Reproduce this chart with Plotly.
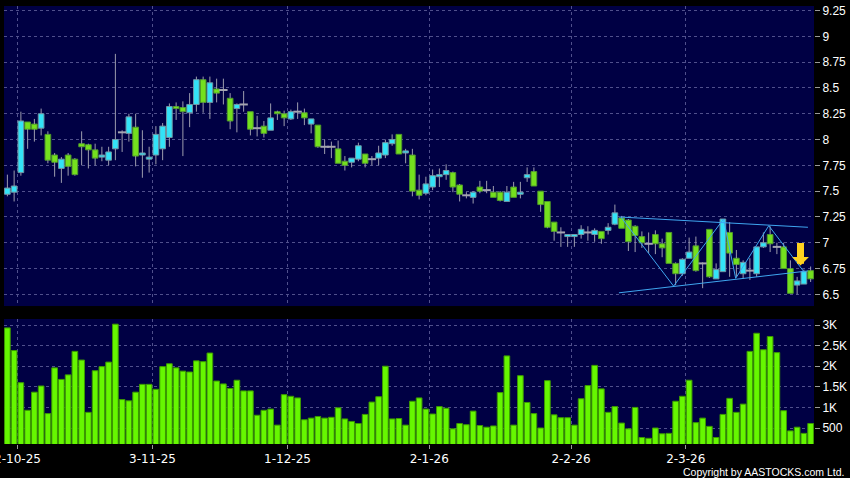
import numpy as np
import plotly.graph_objects as go

# ---------------- data ----------------
open_ = [7.47, 7.49, 7.68, 8.17, 8.15, 8.11, 8.05, 7.85, 7.72, 7.85,
         7.81, 7.96, 7.95, 7.90, 7.83, 7.80, 7.91, 8.07, 8.06, 8.12,
         7.85, 7.81, 7.85, 7.91, 8.02, 8.32, 8.31, 8.26, 8.34, 8.58,
         8.36, 8.49, 8.48, 8.40, 8.30, 8.34, 8.27, 8.11, 8.13, 8.09,
         8.27, 8.25, 8.20, 8.27, 8.26, 8.15, 8.14, 7.93, 7.93, 7.91,
         7.79, 7.78, 7.81, 7.86, 7.81, 7.82, 7.85, 7.96, 8.05, 7.87,
         7.85, 7.51, 7.48, 7.54, 7.64, 7.66, 7.68, 7.56, 7.46, 7.44,
         7.54, 7.51, 7.49, 7.49, 7.40, 7.54, 7.47, 7.63, 7.69, 7.50,
         7.40, 7.20, 7.10, 7.06, 7.06, 7.08, 7.10, 7.08, 7.11, 7.12,
         7.18, 7.24, 7.22, 7.16, 7.06, 6.99, 7.08, 6.99, 7.10, 6.80,
         6.70, 6.85, 6.97, 6.80, 7.13, 6.65, 6.72, 7.10, 6.85, 6.70,
         6.73, 6.70, 6.96, 7.08, 6.96, 6.96, 6.75, 6.59, 6.60, 6.73]
high = [7.66, 7.70, 8.27, 8.17, 8.20, 8.30, 8.08, 7.87, 7.83, 7.87,
        7.82, 8.08, 7.96, 7.96, 7.93, 7.93, 8.83, 8.09, 8.25, 8.25,
        8.09, 7.93, 8.13, 8.16, 8.35, 8.36, 8.37, 8.45, 8.61, 8.61,
        8.61, 8.59, 8.59, 8.45, 8.35, 8.47, 8.27, 8.23, 8.18, 8.35,
        8.28, 8.28, 8.29, 8.36, 8.30, 8.20, 8.14, 8.00, 7.98, 7.99,
        7.84, 7.82, 7.97, 7.86, 7.84, 7.94, 8.00, 8.05, 8.05, 7.91,
        7.91, 7.66, 7.64, 7.71, 7.72, 7.76, 7.69, 7.57, 7.49, 7.50,
        7.60, 7.60, 7.55, 7.50, 7.55, 7.59, 7.59, 7.73, 7.73, 7.50,
        7.40, 7.20, 7.15, 7.08, 7.08, 7.17, 7.16, 7.14, 7.11, 7.19,
        7.37, 7.26, 7.23, 7.17, 7.11, 7.10, 7.12, 7.04, 7.10, 6.81,
        6.85, 7.05, 7.06, 6.81, 7.13, 6.80, 7.23, 7.20, 6.93, 6.83,
        6.85, 6.96, 7.10, 7.16, 7.00, 7.00, 6.83, 6.67, 6.74, 6.77]
low = [7.45, 7.40, 7.65, 7.91, 7.98, 8.04, 7.77, 7.64, 7.58, 7.65,
       7.65, 7.75, 7.72, 7.75, 7.79, 7.75, 7.80, 7.88, 7.98, 7.74,
       7.63, 7.68, 7.76, 7.80, 7.93, 8.19, 7.84, 8.12, 8.27, 8.26,
       8.20, 8.36, 8.34, 8.10, 8.07, 8.27, 8.04, 8.03, 8.02, 8.09,
       8.19, 8.13, 8.19, 8.20, 8.14, 8.06, 7.92, 7.86, 7.82, 7.77,
       7.70, 7.73, 7.79, 7.73, 7.75, 7.75, 7.82, 7.94, 7.86, 7.77,
       7.45, 7.42, 7.46, 7.51, 7.54, 7.61, 7.49, 7.40, 7.43, 7.38,
       7.48, 7.48, 7.44, 7.40, 7.40, 7.44, 7.43, 7.59, 7.55, 7.30,
       7.14, 7.02, 6.96, 6.96, 6.96, 7.04, 7.02, 7.01, 6.99, 7.08,
       7.17, 7.14, 6.92, 6.91, 6.95, 6.90, 6.89, 6.86, 6.80, 6.59,
       6.68, 6.85, 6.72, 6.56, 6.66, 6.65, 6.72, 6.67, 6.67, 6.65,
       6.64, 6.67, 6.95, 6.91, 6.89, 6.75, 6.51, 6.50, 6.60, 6.62]
close = [7.53, 7.55, 8.18, 8.10, 8.10, 8.25, 7.80, 7.78, 7.81, 7.74,
         7.66, 7.93, 7.90, 7.82, 7.85, 7.88, 8.00, 8.07, 8.22, 7.84,
         7.87, 7.83, 8.05, 8.13, 8.32, 8.30, 8.27, 8.34, 8.58, 8.36,
         8.55, 8.45, 8.48, 8.18, 8.34, 8.34, 8.10, 8.11, 8.06, 8.21,
         8.25, 8.21, 8.27, 8.27, 8.21, 8.20, 7.93, 7.93, 7.93, 7.77,
         7.75, 7.82, 7.94, 7.77, 7.81, 7.87, 7.97, 8.00, 7.86, 7.89,
         7.50, 7.46, 7.57, 7.65, 7.66, 7.70, 7.54, 7.47, 7.46, 7.49,
         7.50, 7.51, 7.44, 7.41, 7.49, 7.44, 7.49, 7.66, 7.55, 7.37,
         7.15, 7.11, 7.10, 7.08, 7.08, 7.13, 7.10, 7.12, 7.04, 7.15,
         7.29, 7.14, 7.01, 7.07, 7.00, 6.99, 6.99, 6.95, 6.80, 6.70,
         6.84, 6.91, 6.73, 6.80, 6.67, 6.74, 7.23, 6.90, 6.79, 6.81,
         6.73, 6.96, 7.00, 6.99, 6.96, 6.75, 6.51, 6.63, 6.72, 6.65]
volume = [2930, 2380, 1600, 930, 1370, 1520, 850, 1960, 1680, 1790,
          2360, 2150, 880, 1890, 1990, 2100, 3020, 1190, 1160, 1370,
          1560, 1560, 1440, 1990, 2060, 1960, 1880, 1860, 2130, 2110,
          2320, 1640, 1570, 1460, 1660, 1400, 1400, 810, 930, 960,
          570, 1310, 1270, 1230, 700, 740, 780, 740, 760, 990,
          720, 660, 610, 830, 1130, 1260, 2000, 720, 730, 570,
          1150, 1230, 960, 840, 1020, 980, 480, 610, 580, 910,
          560, 520, 550, 1360, 2250, 570, 1770, 1120, 850, 500,
          1650, 820, 750, 750, 570, 1210, 1530, 2020, 1450, 880,
          1020, 620, 480, 1000, 270, 250, 500, 360, 370, 1150,
          1270, 1660, 630, 740, 540, 270, 830, 1220, 880, 1080,
          2360, 2800, 2400, 2720, 2330, 920, 430, 520, 370, 610]

# trading-day index of the labelled dates
tick_day_index = [1, 21, 41, 62, 83, 100]
tick_labels = ["2-10-25", "3-11-25", "1-12-25", "2-1-26", "2-2-26", "2-3-26"]

price_ticks = [6.5, 6.75, 7.0, 7.25, 7.5, 7.75, 8.0, 8.25, 8.5, 8.75, 9.0, 9.25]
price_tick_labels = ["6.5", "6.75", "7", "7.25", "7.5", "7.75", "8", "8.25",
                     "8.5", "8.75", "9", "9.25"]
vol_ticks = [500, 1000, 1500, 2000, 2500, 3000]
vol_tick_labels = ["500", "1K", "1.5K", "2K", "2.5K", "3K"]

# drawn pattern (triangle) lines, in (trading-day index, price)
upper_line_x = [90.6, 118.6]
upper_line_y = [7.25, 7.15]
lower_line_x = [90.6, 118.6]
lower_line_y = [6.515, 6.727]
zigzag_x = [91.0, 98.7, 106.1, 107.9, 112.8, 118.0]
zigzag_y = [7.24, 6.58, 7.23, 6.655, 7.165, 6.72]
arrow_x = 117.5
arrow_y = 6.78

# ---------------- figure ----------------
o = np.array(open_)
h = np.array(high)
l = np.array(low)
c = np.array(close)
x = np.arange(len(c))
body_top = np.maximum(o, c)
body_bot = np.minimum(o, c)

UP_FILL = "#33e3f7"
UP_LINE = "#6f96a4"
DN_FILL = "#74e01e"
DN_LINE = "#4f9a2a"
WICK = "#9c9cae"
FLAT = "#a4a4b0"

fig = go.Figure()

# wicks (above and below the body so they never cross it)
wx, wy = [], []
for i in range(len(c)):
    if h[i] > body_top[i]:
        wx += [x[i], x[i], None]
        wy += [h[i], body_top[i], None]
    if l[i] < body_bot[i]:
        wx += [x[i], x[i], None]
        wy += [body_bot[i], l[i], None]
fig.add_trace(go.Scatter(x=wx, y=wy, mode="lines", line=dict(color=WICK, width=1),
                         showlegend=False, hoverinfo="skip", xaxis="x", yaxis="y"))

# bodies
for mask, fill, edge in [(c > o, UP_FILL, UP_LINE), (c < o, DN_FILL, DN_LINE)]:
    fig.add_trace(go.Bar(
        x=x[mask], y=(body_top - body_bot)[mask], base=body_bot[mask], width=0.84,
        marker=dict(color=fill, line=dict(color=edge, width=1)),
        showlegend=False, hoverinfo="skip", xaxis="x", yaxis="y",
    ))

# doji (open == close): flat grey dash
flat = c == o
fig.add_trace(go.Scatter(
    x=x[flat], y=c[flat], mode="markers",
    marker=dict(symbol="line-ew", size=6, line=dict(color=FLAT, width=2)),
    showlegend=False, hoverinfo="skip", xaxis="x", yaxis="y",
))

line_style = dict(color="#3fa6f0", width=1)
for lx, ly in [(upper_line_x, upper_line_y), (lower_line_x, lower_line_y),
               (zigzag_x, zigzag_y)]:
    fig.add_trace(go.Scatter(x=lx, y=ly, mode="lines", line=line_style,
                             showlegend=False, hoverinfo="skip",
                             xaxis="x", yaxis="y"))

fig.add_trace(go.Bar(
    x=x, y=volume, width=0.84,
    marker=dict(color="#66f700", line=dict(color="#3c9a00", width=1)),
    showlegend=False, hoverinfo="skip", xaxis="x2", yaxis="y2",
))

NAVY = "#000044"
GRID = "#50508c"
xgrid_vals = [i + 0.5 for i in tick_day_index]

common_x = dict(
    range=[-0.5, 119.5], showline=False, zeroline=False, automargin=False,
    tickmode="array", tickvals=xgrid_vals,
    showgrid=True, gridcolor=GRID, griddash="3px,3px", gridwidth=1,
    fixedrange=True,
)
common_y = dict(
    side="right", tickmode="array", ticks="outside", ticklen=5, tickcolor="#9a9a9a",
    showgrid=True, gridcolor=GRID, griddash="3px,3px", gridwidth=1,
    zeroline=False, showline=False, fixedrange=True, automargin=False,
    tickfont=dict(family="Liberation Sans", size=12, color="#ffffff"),
)

fig.update_layout(
    width=850, height=478,
    paper_bgcolor="#000000", plot_bgcolor=NAVY,
    margin=dict(l=4, r=36, t=6, b=34, autoexpand=False),
    barmode="overlay",
    xaxis=dict(**common_x, domain=[0, 1], anchor="y",
               showticklabels=False, ticks=""),
    xaxis2=dict(**common_x, domain=[0, 1], anchor="y2", ticktext=tick_labels,
                ticks="outside", ticklen=4, tickcolor="#9a9a9a",
                ticklabeloverflow="allow",
                tickfont=dict(family="DejaVu Sans", size=12, color="#ffffff")),
    yaxis=dict(**common_y, domain=[0.315, 1], range=[6.387, 9.294],
               tickvals=price_ticks, ticktext=price_tick_labels),
    yaxis2=dict(**common_y, domain=[0, 0.2854], range=[112, 3146],
                tickvals=vol_ticks, ticktext=vol_tick_labels),
    annotations=[
        dict(x=arrow_x, y=arrow_y, xref="x", yref="y", ax=0, ay=-24,
             showarrow=True, arrowhead=1, arrowsize=0.4, arrowwidth=7,
             arrowcolor="#ffd21f", text=""),
        dict(text="Copyright by AASTOCKS.com Ltd.", xref="paper", yref="paper",
             x=1.0, y=0, xanchor="right", yanchor="top", yshift=-20, xshift=32,
             showarrow=False,
             font=dict(family="Liberation Sans", size=10.5, color="#ffffff")),
    ],
)

fig.write_html(
    "out.html",
    config={"displayModeBar": False, "staticPlot": True},
    post_script="document.body.style.margin='0';document.body.style.padding='0';"
                "document.body.style.background='#000';",
)
